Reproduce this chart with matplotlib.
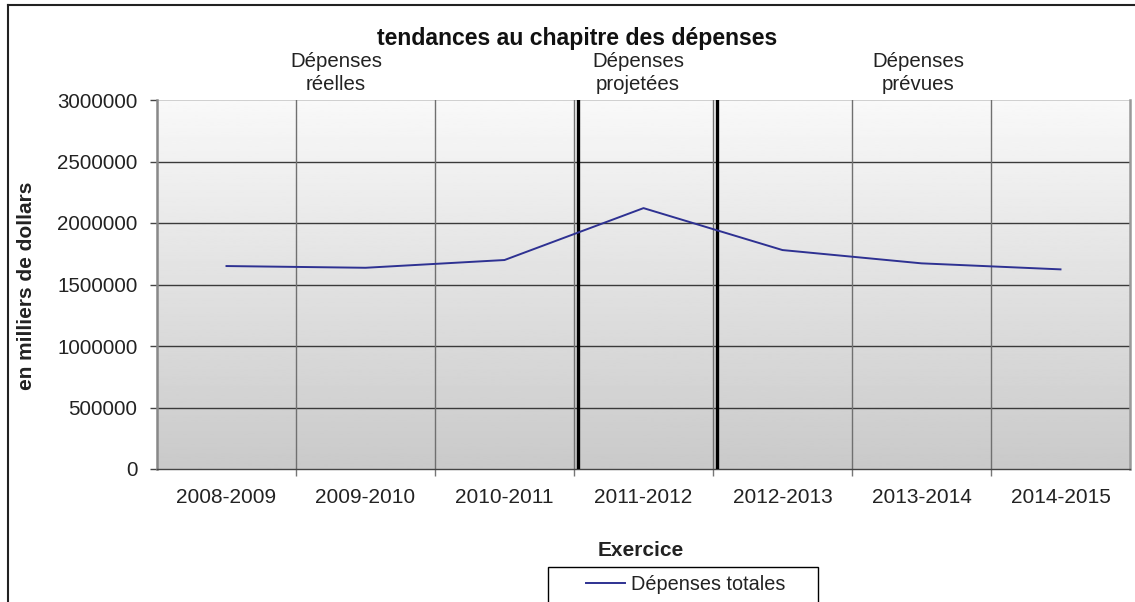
import numpy as np
import matplotlib
matplotlib.use("Agg")
import matplotlib.pyplot as plt
from matplotlib.lines import Line2D
from matplotlib.patches import Rectangle

plt.rcParams['font.family'] = ['Liberation Sans', 'DejaVu Sans']

categories = ["2008-2009", "2009-2010", "2010-2011", "2011-2012", "2012-2013", "2013-2014", "2014-2015"]
depenses_totales = [1650000, 1636000, 1699000, 2121000, 1780000, 1672000, 1623000]
yticks = [0, 500000, 1000000, 1500000, 2000000, 2500000, 3000000]
period_labels = ["Dépenses\nréelles", "Dépenses\nprojetées", "Dépenses\nprévues"]

W, H = 1135, 602
fig = plt.figure(figsize=(W / 100, H / 100), dpi=100)
fig.patch.set_facecolor("white")

L, R, T, B = 157, 1130, 100, 469
ax = fig.add_axes([L / W, 1 - B / H, (R - L) / W, (B - T) / H])

x = np.arange(len(categories))
n = len(categories)

# gradient background (dark at bottom, light at top)
grad = np.linspace(0.79, 0.975, 256).reshape(-1, 1)
ax.imshow(grad, extent=[-0.5, n - 0.5, 0, 3000000], aspect="auto",
          cmap="gray", vmin=0, vmax=1, zorder=0, origin="lower")
ax.set_xlim(-0.5, n - 0.5)
ax.set_ylim(0, 3000000)

# grid
for yv in yticks[1:-1]:
    ax.axhline(yv, color="#3a3a3a", lw=1.0, zorder=1)
ax.axhline(3000000, color="#c8c8c8", lw=1.2, zorder=1)
for b in np.arange(0.5, n - 0.5, 1.0):
    ax.axvline(b, color="#707070", lw=1.0, zorder=1)

# thick period separators
for b in [2.5, 3.5]:
    ax.axvline(b + 0.027, color="black", lw=2.4, zorder=3)

line, = ax.plot(x, depenses_totales, color="#2E3192", lw=1.4, zorder=4, label="Dépenses totales")

# spines
ax.spines["top"].set_visible(False)
ax.spines["left"].set_color("#888888")
ax.spines["left"].set_linewidth(1.8)
ax.spines["right"].set_color("#999999")
ax.spines["right"].set_linewidth(1.8)
ax.spines["bottom"].set_color("#444444")
ax.spines["bottom"].set_linewidth(1.0)

ax.set_yticks(yticks)
ax.set_yticklabels([str(v) for v in yticks])
ax.tick_params(axis="y", direction="out", length=5, width=1, color="#444444",
               labelsize=14.8, labelcolor="#222222", pad=9)
ax.set_xticks(x)
ax.set_xticklabels(categories)
ax.tick_params(axis="x", which="major", length=0, labelsize=15, labelcolor="#222222", pad=14)
ax.set_xticks(np.arange(0.5, n - 0.5, 1.0), minor=True)
ax.tick_params(axis="x", which="minor", direction="out", length=5, width=1, color="#777777")

# texts
fig.text(577 / W, 1 - 39 / H, "tendances au chapitre des dépenses", ha="center", va="center",
         fontsize=16.6, fontweight="bold", color="#111111")
for px, lab in zip([336, 638, 918], period_labels):
    fig.text(px / W, 1 - 73 / H, lab, ha="center", va="center", fontsize=14.7,
             color="#222222", linespacing=1.32)
fig.text(27 / W, 1 - 286 / H, "en milliers de dollars", rotation=90, ha="center", va="center",
         fontsize=15, fontweight="bold", color="#222222")
fig.text(641 / W, 1 - 551 / H, "Exercice", ha="center", va="center", fontsize=15,
         fontweight="bold", color="#222222")

# legend box and legend
box = Rectangle((548 / W, -0.01), (818 - 548) / W, 1 - 567 / H + 0.01, transform=fig.transFigure,
                facecolor="white", edgecolor="black", lw=1.0, zorder=5)
fig.add_artist(box)
leg = fig.legend(handles=[line], labels=["Dépenses totales"], loc="center left",
                 bbox_to_anchor=(586 / W, 1 - 584 / H), bbox_transform=fig.transFigure,
                 fontsize=14.3, frameon=False, handlelength=1.95,
                 handletextpad=0.3, borderpad=0, borderaxespad=0)
leg.set_zorder(6)
for t in leg.get_texts():
    t.set_color("#222222")

# figure frame (left and top visible)
fig.add_artist(Line2D([8 / W, 8 / W], [0, 1 - 5 / H], transform=fig.transFigure, color="#222222", lw=1.5))
fig.add_artist(Line2D([8 / W, 1], [1 - 5 / H, 1 - 5 / H], transform=fig.transFigure, color="#222222", lw=1.5))

fig.savefig("out.png", dpi=100)
